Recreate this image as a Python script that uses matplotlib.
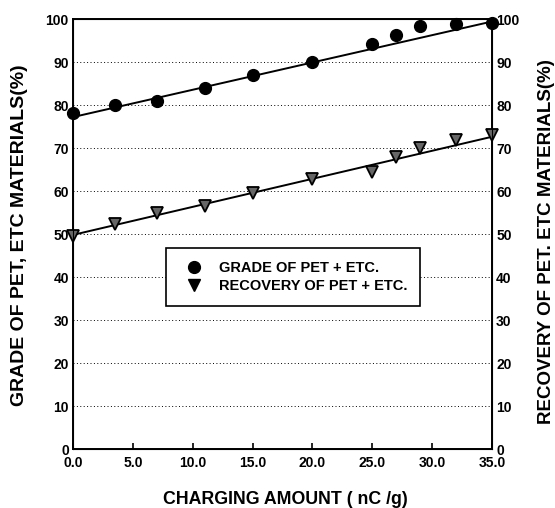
import numpy as np
from matplotlib import pyplot as plt

# charging amount (nC/g)
charge = [0.0, 3.5, 7.0, 11.0, 15.0, 20.0, 25.0, 27.0, 29.0, 32.0, 35.0]
grade = [78.3, 80.0, 81.0, 84.1, 87.0, 90.2, 94.4, 96.5, 98.5, 98.9, 99.1]
recovery = [49.6, 52.4, 55.1, 56.6, 59.7, 62.9, 64.6, 68.0, 70.1, 72.0, 73.1]

# fitted lines (intercept, slope)
grade_fit = (77.3, 0.635)
recovery_fit = (49.9, 0.652)

xticks = [0, 5, 10, 15, 20, 25, 30, 35]
yticks = [0, 10, 20, 30, 40, 50, 60, 70, 80, 90, 100]

plt.rcParams['font.family'] = ['Liberation Sans', 'DejaVu Sans']
plt.rcParams['font.weight'] = 'bold'

fig = plt.figure(figsize=(5.55, 5.08), dpi=100)
ax = fig.add_axes([0.1315, 0.1152, 0.755, 0.8465])

fx = np.array([0.0, 35.0])
ax.plot(fx, grade_fit[0] + grade_fit[1] * fx, 'k-', linewidth=1.4, zorder=2)
ax.plot(fx, recovery_fit[0] + recovery_fit[1] * fx, 'k-', linewidth=1.4, zorder=2)

ax.plot(charge, grade, 'o', color='black', markersize=8.5, linestyle='none',
        clip_on=False, zorder=3)
ax.plot(charge, recovery, 'v', markerfacecolor='#666666', markeredgecolor='black',
        markeredgewidth=1.3, markersize=8, linestyle='none', clip_on=False, zorder=3)

# legend handles (solid black)
h1, = ax.plot([], [], 'o', color='black', markersize=8.5)
h2, = ax.plot([], [], 'v', color='black', markersize=8.5)
leg = ax.legend([h1, h2], ['GRADE OF PET + ETC.', 'RECOVERY OF PET + ETC.'],
                loc='upper left', bbox_to_anchor=(0.222, 0.468), fancybox=False,
                edgecolor='black', framealpha=1, fontsize=10.5, borderpad=0.9,
                handletextpad=0.7, labelspacing=0.25, borderaxespad=0)
leg.get_frame().set_linewidth(1.2)

ax.set_xlim(0, 35)
ax.set_ylim(0, 100)
ax.set_xticks(xticks)
ax.set_xticklabels([f'{t:.1f}' for t in xticks])
ax.set_yticks(yticks)
for y in yticks[1:-1]:
    ax.axhline(y, color='black', linestyle=(0, (1, 2.5)), linewidth=0.7, zorder=1)

ax.tick_params(axis='x', direction='in', length=4, width=1.2, labelsize=10, pad=5)
ax.tick_params(axis='y', length=0, labelsize=10, pad=3)
for s in ax.spines.values():
    s.set_linewidth(1.4)

ax2 = ax.twinx()
ax2.set_ylim(0, 100)
ax2.set_yticks(yticks)
ax2.tick_params(axis='y', length=0, labelsize=10, pad=3)

ax.set_xlabel('CHARGING AMOUNT ( nC /g)', fontsize=12.8, fontweight='bold')
ax.xaxis.set_label_coords(0.506, -0.097)
ax.set_ylabel('GRADE OF PET, ETC MATERIALS(%)', fontsize=14, fontweight='bold')
ax.yaxis.set_label_coords(-0.108, 0.498)
ax2.set_ylabel('RECOVERY OF PET. ETC MATERIALS(%)', fontsize=13.5, fontweight='bold')
ax2.yaxis.set_label_coords(1.110, 0.484)

fig.savefig('out.png', dpi=100)
